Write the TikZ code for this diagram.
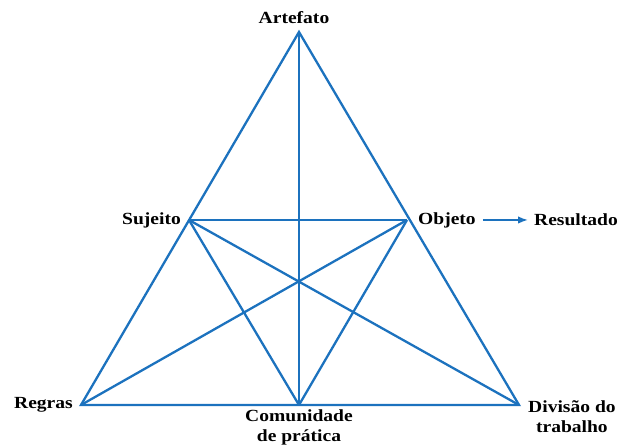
\documentclass[tikz,border=0pt]{standalone}
\usepackage{fontspec}
\setmainfont{Liberation Serif}[FakeStretch=1.15]
\usepackage{tikz}
\usetikzlibrary{positioning,arrows.meta}
\definecolor{triblue}{RGB}{28,114,190}

\begin{document}
\begin{tikzpicture}[x=1pt,y=1pt,>=Latex,
  lab/.style={font=\fontsize{17}{20}\selectfont\bfseries,align=center,inner sep=3pt},
  edge/.style={draw=triblue,line width=2.3pt}]
  \useasboundingbox (0,0) rectangle (619,446);
  % vertices
  \coordinate (A) at (299,414);
  \coordinate (R) at (81,41);
  \coordinate (D) at (519,41);
  \coordinate (C) at (299,41);
  \coordinate (S) at (189,226);
  \coordinate (O) at (407,226);
  % triangle and inner lines
  \draw[edge] (A)--(R)--(D)--cycle;
  \foreach \a/\b in {S/O,A/C,S/C,O/C,S/D,O/R}{
    \draw[edge] (\a)--(\b);
  }
  % labels
  \node[lab,above=5pt,xshift=-5pt] (art) at (A) {Artefato};
  \node[lab,left=5pt] (suj) at (S) {Sujeito};
  \node[lab,right=8pt] (obj) at (O) {Objeto};
  \node[lab,right=52pt of obj] (res) {Resultado};
  \node[lab,left=5pt] (reg) at (R) {Regras};
  \node[lab,below=2pt] (com) at (C) {Comunidade\\de prática};
  \node[lab,anchor=north west,xshift=6pt,yshift=8pt] (div) at (D) {Divisão do\\trabalho};
  \draw[->,triblue,line width=1.5pt,shorten <=4pt,shorten >=3pt] (obj)--(res);
\end{tikzpicture}
\end{document}
